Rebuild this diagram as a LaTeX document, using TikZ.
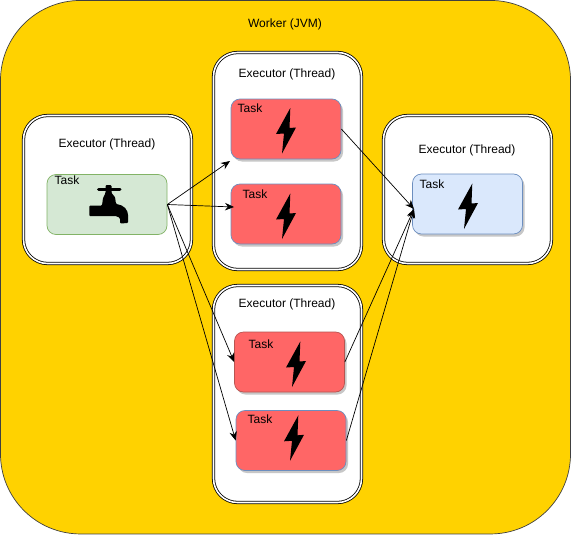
\documentclass[tikz,border=0pt]{standalone}
\usepackage{fontspec}
\setmainfont{Liberation Sans}
\usetikzlibrary{arrows.meta, shadows}

\definecolor{workerfill}{HTML}{FFD200}
\definecolor{taskred}{HTML}{FF6666}
\definecolor{taskgreen}{HTML}{D5E8D4}
\definecolor{taskblue}{HTML}{DAE8FC}
\definecolor{edgegreen}{HTML}{82B366}
\definecolor{edgeblue}{HTML}{6C8EBF}
\definecolor{edgered}{HTML}{B85450}

\tikzset{
  worker/.style={draw=black!75, fill=workerfill, line width=0.7pt, rounded corners=80pt,
    minimum width=570pt, minimum height=533.5pt, inner sep=0pt},
  executor/.style={draw=black, fill=white, line width=0.8pt, double=white, double distance=1.6pt,
    rounded corners=24pt, inner sep=0pt},
  task/.style={rounded corners=9pt, minimum width=110pt, minimum height=60pt, inner sep=0pt, line width=0.7pt},
  tasklift/.style={task, drop shadow={shadow xshift=2pt, shadow yshift=-2.5pt, fill=black!22, opacity=1}},
  redtask/.style={tasklift, draw=edgeblue, fill=taskred},
  label/.style={font=\fontsize{12}{14}\selectfont, inner sep=0pt},
  flow/.style={draw=black, line width=0.7pt, -{Stealth[length=9pt, width=7.5pt]}},
  bolt/.pic={
    \fill[black] (4.3,-23) -- (-10,3) -- (-2,2.5) -- (-4,22.5) -- (10,-3.5) -- (3.5,-3) -- cycle;
  }
}

\begin{document}
\begin{tikzpicture}[x=1pt, y=-1pt]
  \useasboundingbox (0,0) rectangle (572,538);

  \node[worker] (worker) at (285.5,267.2) {};
  \node[label] (workerlabel) at (285,24.7) {Worker (JVM)};

  % executors
  \node[executor, minimum width=168pt, minimum height=148pt] (execA) at (107.5,189.5) {};
  \node[executor, minimum width=148pt, minimum height=217pt] (execB) at (287.5,161) {};
  \node[executor, minimum width=148pt, minimum height=217pt] (execC) at (287.5,394) {};
  \node[executor, minimum width=168pt, minimum height=148pt] (execD) at (467.5,189.5) {};
  \node[label] (execAlabel) at (107,144.7) {Executor (Thread)};
  \node[label] (execBlabel) at (287,74.7) {Executor (Thread)};
  \node[label] (execClabel) at (287,304.7) {Executor (Thread)};
  \node[label] (execDlabel) at (467,150.7) {Executor (Thread)};

  % tasks
  \node[task, draw=edgegreen, fill=taskgreen, minimum width=120pt] (source) at (107,204.5) {};
  \node[redtask] (boltA) at (286,129) {};
  \node[redtask] (boltB) at (286,214) {};
  \node[redtask, draw=edgered] (boltC) at (289.5,362) {};
  \node[redtask] (boltD) at (291,440.5) {};
  \node[tasklift, draw=edgeblue, fill=taskblue] (sink) at (467.5,204) {};

  \node[label] (sourcelabel) at (67,180) {Task};
  \node[label] (boltAlabel) at (250,108.5) {Task};
  \node[label] (boltBlabel) at (255,194) {Task};
  \node[label] (boltClabel) at (261,344) {Task};
  \node[label] (boltDlabel) at (260,419) {Task};
  \node[label] (sinklabel) at (432,184) {Task};

  % icons
  \pic at (286,131) {bolt};
  \pic at (286,216.5) {bolt};
  \pic at (296,364.5) {bolt};
  \pic at (294,438.3) {bolt};
  \pic at (468,206.5) {bolt};

  \fill[black, rounded corners=1pt] (89.3,205.5) -- (102,205.5) -- (103,198) -- (105.5,193) -- (105.5,185) -- (111.5,185) -- (111.5,193)
    -- (115,197) -- (116,204) .. controls (124,205) and (128,210) .. (128,216) -- (128,223) -- (120,223.5) -- (120,220)
    .. controls (120,218) and (118,216.2) .. (115,216.2) -- (89.3,216.2) -- cycle;
  \draw[black, line width=3pt, line cap=round] (98.5,189) -- (120,189);

  % links
  \coordinate (boltAin) at (230,161);
  \coordinate (boltBin) at (234,207);
  \coordinate (sinkin) at (414,209);
  \draw[flow] (source.east) -- (boltAin);
  \draw[flow] (source.east) -- (boltBin);
  \draw[flow] (source.east) -- (boltC.west);
  \draw[flow] (source.east) -- (boltD.west);
  \draw[flow] (boltA.east) -- (sinkin);
  \draw[flow] (boltC.east) -- (sinkin);
  \draw[flow] (boltD.east) -- (sinkin);
\end{tikzpicture}
\end{document}
